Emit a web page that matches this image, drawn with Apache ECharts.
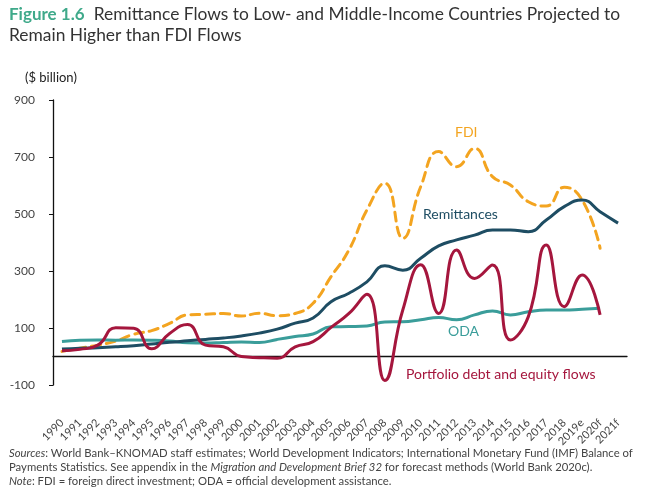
<!DOCTYPE html>
<html>
<head>
<meta charset="utf-8">
<script src="https://cdn.jsdelivr.net/npm/echarts@6/dist/echarts.min.js"></script>
<style>html,body{margin:0;padding:0;background:#fff}#c{width:667px;height:488px}</style>
</head>
<body>
<div id="c"></div>
<script>
const years = ['1990','1991','1992','1993','1994','1995','1996','1997','1998','1999','2000','2001','2002','2003','2004','2005','2006','2007','2008','2009','2010','2011','2012','2013','2014','2015','2016','2017','2018','2019e','2020f','2021f'];
const remittances = [26,29,31,34,38,44,50,55,60,65,72,82,96,117,135,192,222,262,318,303,345,388,409,426,444,444,438,479,526,549,508,468];
const fdi = [18,29,40,54,78,91,116,146,148,151,142,152,143,151,187,280,374,514,608,415,596,719,666,730,631,602,543,528,594,549,380,null];
const portfolio = [20,25,40,101,99,27,81,112,40,34,0,-4,-6,34,52,102,151,218,-84,163,322,151,374,274,321,58,140,391,175,286,146,null];
const oda = [53,57,58,57,58,57,54,48,47,49,51,49,60,70,79,104,105,107,121,122,129,137,129,146,160,146,157,163,163,166,169,null];
const yTicks = [-100,100,300,500,700,900];

const FONT = 'Lato';
const chart = echarts.init(document.getElementById('c'), null, {renderer:'canvas'});
chart.setOption({
  animation: false,
  textStyle: {fontFamily: FONT},
  title: [{
    left: 4, top: -1,
    text: '{a|Figure 1.6}  {b|Remittance Flows to Low- and Middle-Income Countries Projected to}\n{b|Remain Higher than FDI Flows}',
    textStyle: {
      fontWeight: 'normal',
      rich: {
        a: {fontFamily: FONT, fontSize: 17, fontWeight: 'bold', color: '#3fa98a', lineHeight: 21},
        b: {fontFamily: FONT, fontSize: 17.4, fontWeight: 'normal', color: '#333', lineHeight: 21}
      }
    }
  }, {
    left: 20, top: 66,
    text: '($ billion)',
    textStyle: {fontFamily: FONT, fontSize: 13, fontWeight: 'normal', color: '#222'}
  }, {
    left: 4, top: 441,
    text: '{i|Sources}{n|: World Bank–KNOMAD staff estimates; World Development Indicators; International Monetary Fund (IMF) Balance of}\n{n|Payments Statistics. See appendix in the }{i|Migration and Development Brief 32}{n| for forecast methods (World Bank 2020c).}\n{i|Note}{n|: FDI = foreign direct investment; ODA = official development assistance.}',
    textStyle: {
      fontWeight: 'normal',
      rich: {
        i: {fontFamily: FONT, fontSize: 11.3, fontStyle: 'italic', fontWeight: 'normal', color: '#444', lineHeight: 14},
        n: {fontFamily: FONT, fontSize: 11.3, fontWeight: 'normal', color: '#444', lineHeight: 14}
      }
    }
  }],
  grid: {left: 53, right: 40, top: 100, bottom: 103},
  xAxis: {
    type: 'category',
    data: years,
    boundaryGap: true,
    axisLine: {onZero: true, lineStyle: {color: '#111', width: 1.3}},
    axisTick: {alignWithLabel: true, length: 5, lineStyle: {color: '#111'}},
    axisLabel: {interval: 0, rotate: 45, margin: 36, fontSize: 11, color: '#444', fontFamily: FONT},
    splitLine: {show: false}
  },
  yAxis: {
    type: 'value',
    min: -100, max: 900,
    axisLine: {show: true, lineStyle: {color: '#111', width: 1.3}},
    axisTick: {show: true, length: 4, customValues: yTicks, lineStyle: {color: '#111'}},
    axisLabel: {customValues: yTicks, margin: 18, fontSize: 12, color: '#444', fontFamily: FONT},
    splitLine: {show: false}
  },
  series: [
    {name: 'FDI', type: 'line', data: fdi, smooth: 0.5, symbol: 'none',
     lineStyle: {color: '#f3a420', width: 3, type: [9, 6], cap: 'round'}},
    {name: 'ODA', type: 'line', data: oda, smooth: 0.5, symbol: 'none',
     lineStyle: {color: '#3a9d9a', width: 3}},
    {name: 'Remittances', type: 'line', data: remittances, smooth: 0.5, symbol: 'none',
     lineStyle: {color: '#1e4d63', width: 3}},
    {name: 'Portfolio', type: 'line', data: portfolio, smooth: 0.5, symbol: 'none',
     lineStyle: {color: '#a5163d', width: 3}}
  ],
  graphic: [
    {type: 'text', left: 455, top: 125, style: {text: 'FDI', fill: '#f3a420', font: '14px ' + FONT}},
    {type: 'text', left: 423, top: 207, style: {text: 'Remittances', fill: '#1e4d63', font: '14px ' + FONT}},
    {type: 'text', left: 448, top: 324, style: {text: 'ODA', fill: '#3a9d9a', font: '14px ' + FONT}},
    {type: 'text', left: 406, top: 367, style: {text: 'Portfolio debt and equity flows', fill: '#a5163d', font: '14px ' + FONT}}
  ]
});
</script>
</body>
</html>
